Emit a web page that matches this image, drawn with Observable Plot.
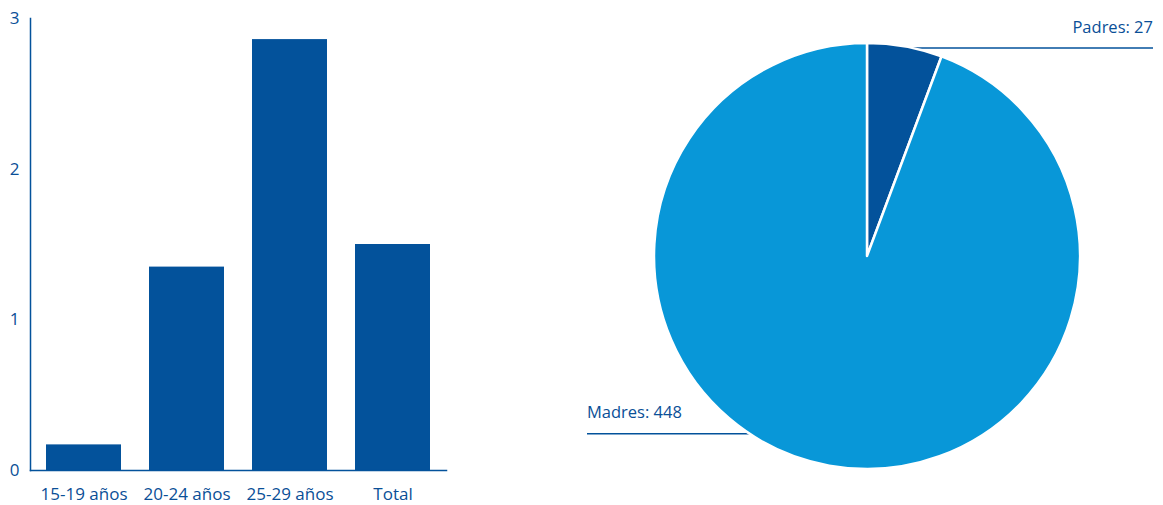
<!DOCTYPE html>
<html>
<head>
<meta charset="utf-8">
<script src="https://cdn.jsdelivr.net/npm/d3@7"></script>
<script src="https://cdn.jsdelivr.net/npm/@observablehq/plot@0.6"></script>
<style>
  html, body { margin: 0; padding: 0; background: #fff; }
  #wrap { display: flex; width: 1163px; height: 505px; }
  svg { font-family: "Open Sans", sans-serif; }
</style>
</head>
<body>
<div id="wrap"></div>
<script>
// Bar chart data
const ageGroups = ["15-19 años", "20-24 años", "25-29 años", "Total"];
const ageValues = [0.17, 1.35, 2.86, 1.50];
const yTicks = [0, 1, 2, 3];

// Pie chart data
const parents = ["Padres", "Madres"];
const parentCounts = [27, 448];

const dark = "#03529b";
const light = "#0897d8";
const textColor = "#0a4f97";

const bars = ageGroups.map((g, i) => ({group: g, value: ageValues[i]}));
const slices = parents.map((p, i) => ({name: p, count: parentCounts[i]}));

const barChart = Plot.plot({
  width: 460,
  height: 505,
  marginLeft: 30,
  marginRight: 14,
  marginTop: 18,
  marginBottom: 35,
  style: {fontSize: "17px", color: textColor, fontFamily: "Open Sans, sans-serif"},
  x: {domain: ageGroups, paddingInner: 0.27, paddingOuter: 0.14, label: null, tickSize: 0, tickPadding: 17},
  y: {domain: [0, 3], ticks: yTicks, label: null, tickSize: 0, tickPadding: 11, tickFormat: d3.format("d")},
  marks: [
    Plot.barY(bars, {x: "group", y: "value", fill: dark}),
    Plot.axisX({tickSize: 0, tickPadding: 17, fill: textColor}),
    Plot.axisY({ticks: yTicks, tickSize: 0, tickPadding: 11, fill: textColor, tickFormat: d3.format("d")}),
    Plot.frame({anchor: "left", stroke: dark, strokeWidth: 1.5}),
    Plot.frame({anchor: "bottom", stroke: dark, strokeWidth: 1.5})
  ]
});

const pieChart = Plot.plot({
  width: 703,
  height: 505,
  marginLeft: 194,
  marginRight: 83,
  marginTop: 43,
  marginBottom: 36,
  x: {axis: null},
  y: {axis: null},
  color: {domain: parents, range: [dark, light]},
  marks: [
    (index, scales, values, dim) => {
      const ns = "http://www.w3.org/2000/svg";
      const g = document.createElementNS(ns, "g");
      const w = dim.width - dim.marginLeft - dim.marginRight;
      const h = dim.height - dim.marginTop - dim.marginBottom;
      const cx = dim.marginLeft + w / 2;
      const cy = dim.marginTop + h / 2;
      const r = Math.min(w, h) / 2;
      const pie = d3.pie().sort(null).value(d => d.count)(slices);
      const arc = d3.arc().innerRadius(0).outerRadius(r);
      // leader lines (under the pie)
      const line = (x1, x2, y) => {
        const l = document.createElementNS(ns, "line");
        l.setAttribute("x1", x1); l.setAttribute("x2", x2);
        l.setAttribute("y1", y); l.setAttribute("y2", y);
        l.setAttribute("stroke", dark); l.setAttribute("stroke-width", 1.5);
        g.appendChild(l);
      };
      const rightX = dim.width - 10;
      const leftX = 127;
      line(cx, rightX, cy - r + 5);
      line(leftX, cx, cy + r * 0.835);
      const pg = document.createElementNS(ns, "g");
      pg.setAttribute("transform", `translate(${cx},${cy})`);
      for (const a of pie) {
        const p = document.createElementNS(ns, "path");
        p.setAttribute("d", arc(a));
        p.setAttribute("fill", scales.color(a.data.name));
        p.setAttribute("stroke", "#fff");
        p.setAttribute("stroke-width", 2.5);
        p.setAttribute("stroke-linejoin", "round");
        pg.appendChild(p);
      }
      g.appendChild(pg);
      const text = (x, y, anchor, str) => {
        const t = document.createElementNS(ns, "text");
        t.setAttribute("x", x); t.setAttribute("y", y);
        t.setAttribute("text-anchor", anchor);
        t.setAttribute("fill", textColor);
        t.setAttribute("font-size", "16.5px");
        t.setAttribute("font-family", "Open Sans, sans-serif");
        t.textContent = str;
        g.appendChild(t);
      };
      text(rightX, cy - r - 10, "end", `${slices[0].name}: ${slices[0].count}`);
      text(leftX, cy + r * 0.835 - 16, "start", `${slices[1].name}: ${slices[1].count}`);
      return g;
    }
  ]
});

const wrap = document.getElementById("wrap");
wrap.appendChild(barChart);
wrap.appendChild(pieChart);
</script>
</body>
</html>
